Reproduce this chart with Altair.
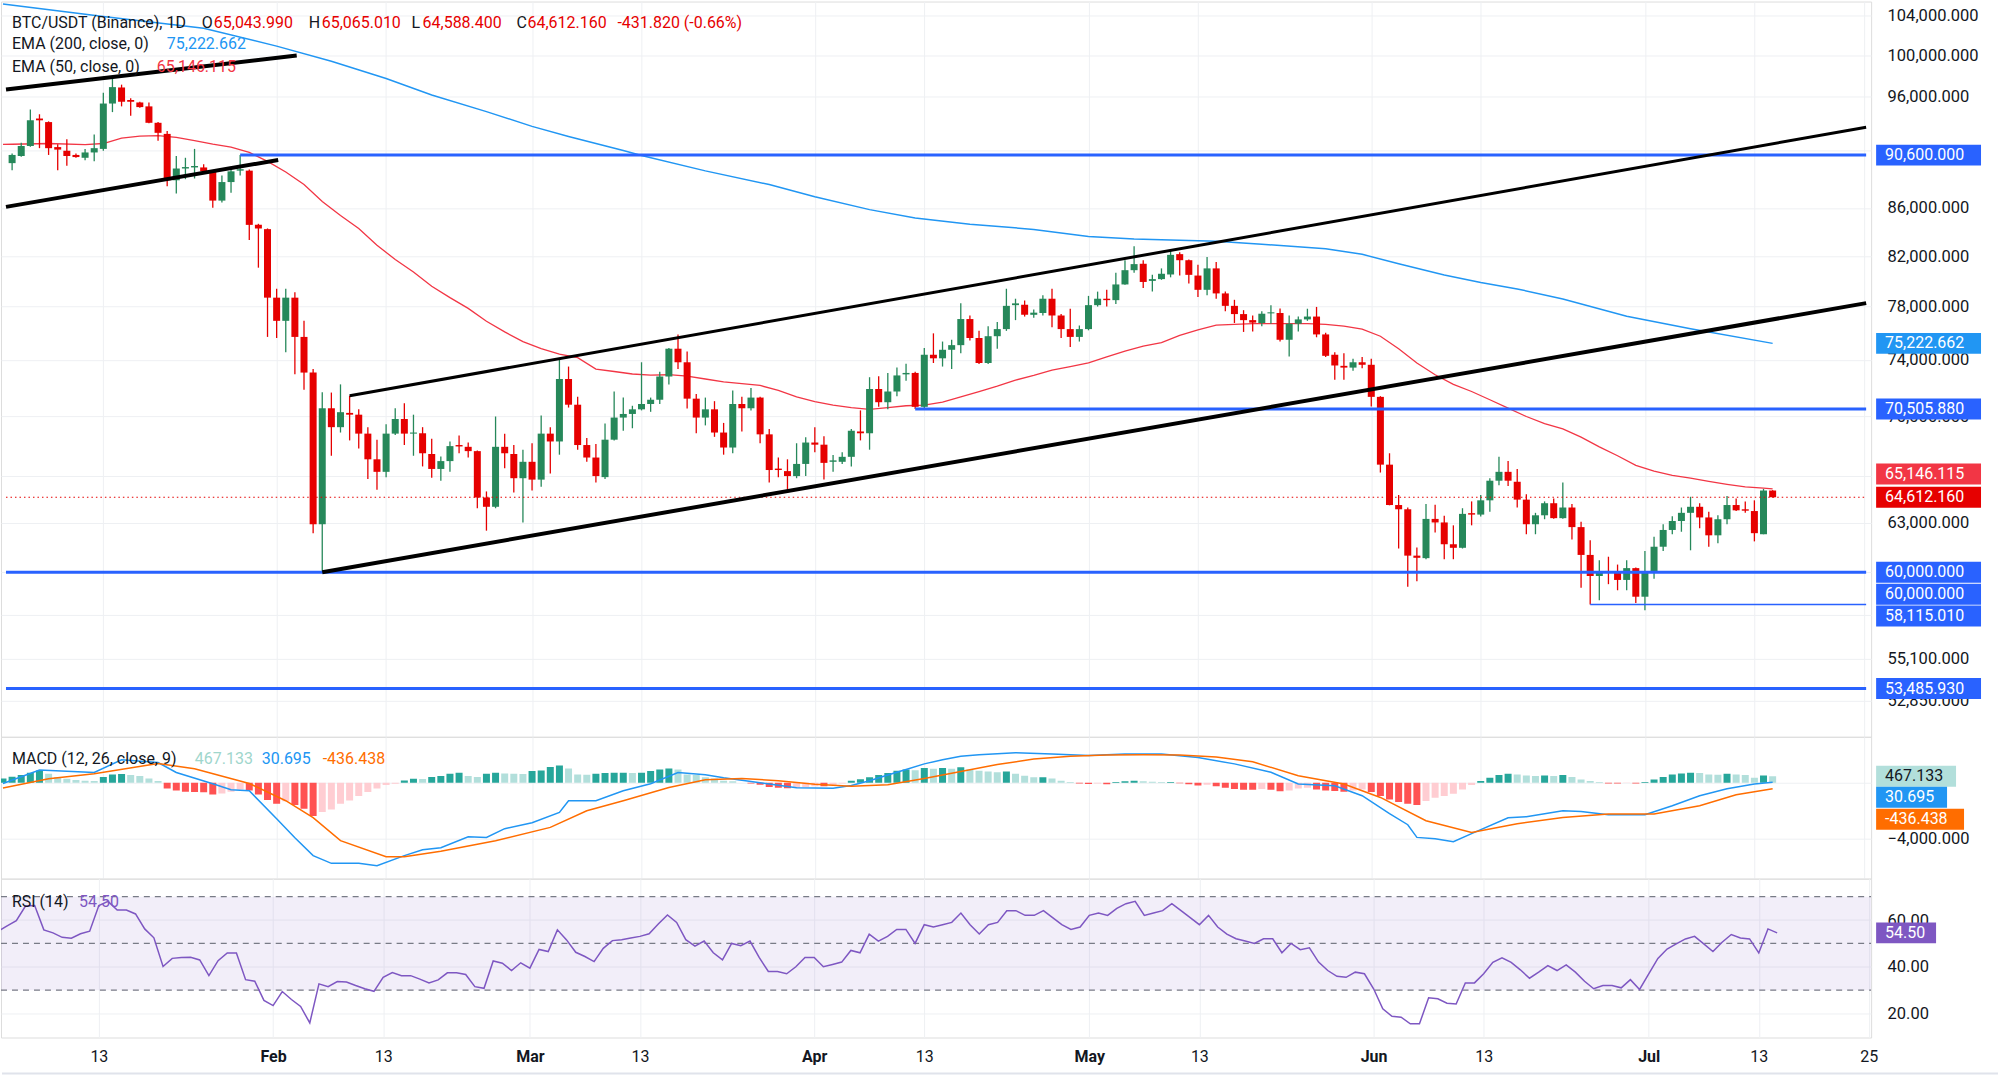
import json
import altair as alt
import pandas as pd

# ---------------- data ----------------
START = "2026-01-03"   # first daily candle

opens = [89885, 90521, 91418, 93935, 93606, 91321, 90998, 90616, 90362, 90839,
         91159, 95337, 96862, 95672, 95438, 95069, 93540, 92520, 88376, 89409,
         89504, 89504, 89159, 86618, 88220, 89221, 89221, 84566, 84211, 78698,
         76916, 78698, 75704, 73083, 62913, 70551, 69245, 70229, 70105, 68805,
         67081, 66256, 68805, 69806, 68805, 68830, 67435, 66445, 66963, 68034,
         67914, 67626, 64597, 64007, 67914, 67435, 65840, 66916, 65748, 68805,
         68274, 72620, 70799, 68034, 67199, 65910, 68394, 69905, 70155, 70477,
         70849, 71148, 72799, 74827, 73831, 71224, 69905, 70477, 68879, 67866,
         70849, 70551, 71299, 68756, 66468, 66303, 65979, 66775, 68202, 68058,
         66916, 66916, 67246, 68952, 68830, 71906, 70973, 71729, 72954, 73057,
         70650, 74382, 74120, 74748, 75091, 77052, 75624, 73779, 75757, 76291,
         78118, 78146, 77377, 77513, 78615, 77323, 76291, 75704, 76291, 78118,
         78615, 78505, 79732, 80864, 81378, 80013, 80154, 80521, 82156, 81665,
         80435, 79310, 81007, 79029, 78063, 77431, 76970, 76753, 77486, 77513,
         75491, 76698, 77025, 77242, 75891, 74382, 73571, 73443, 73831, 73648,
         71350, 66728, 64118, 63850, 60991, 60840, 63245, 63024, 61681, 61465,
         63604, 63515, 64417, 65678, 66256, 65609, 64461, 62913, 63471, 64233,
         63292, 63961, 62734, 61034, 59776, 60074, 59989, 59544, 60243, 58565,
         59989, 61530, 62558, 63113, 63626, 64007, 63337, 62228, 63225, 64118,
         63850, 63738, 62294, 65043.99]
highs = [90744, 91710, 94767, 94332, 93672, 91580, 92034, 90744, 91159, 92455,
         96350, 97821, 97134, 95840, 95505, 95438, 93606, 92782, 90521, 90362,
         91159, 89790, 89253, 88783, 89472, 90600, 89315, 84655, 84270, 79394,
         79394, 79113, 76916, 73340, 71679, 71654, 72236, 71426, 70477, 69245,
         68394, 69440, 70551, 70899, 70105, 69245, 68466, 67270, 68274, 68683,
         68202, 67674, 64985, 69979, 68805, 68034, 67722, 68154, 70054, 69245,
         74041, 73519, 71350, 68514, 68106, 69489, 71729, 71299, 70725, 73831,
         71299, 73134, 74878, 75891, 74617, 71552, 71299, 71048, 69538, 71805,
         71350, 71982, 71350, 69123, 67199, 67081, 68154, 68562, 69245, 68634,
         67364, 67555, 69123, 70403, 72748, 72825, 73057, 73443, 73727, 73134,
         74878, 75971, 75358, 75491, 78256, 77323, 76158, 76508, 76835, 79394,
         78615, 78477, 77786, 78891, 79394, 77431, 77841, 76562, 78836, 79169,
         79310, 80664, 81665, 82797, 81665, 80492, 81007, 82447, 82301, 81722,
         81293, 81923, 81521, 79169, 78532, 77731, 77323, 77648, 78118, 77869,
         77323, 77242, 77841, 77980, 76024, 74565, 74486, 74094, 74224, 74094,
         71401, 67483, 64757, 63961, 61487, 64187, 64141, 63448, 62844, 63916,
         64349, 64757, 65840, 67246, 66963, 66445, 64803, 63626, 64349, 64529,
         65562, 64187, 63068, 61922, 60710, 60926, 60455, 60710, 60285, 61271,
         62140, 62913, 63404, 63961, 64643, 64233, 63693, 63471, 64689, 64529,
         64349, 64417, 65145, 65065.01]
lows = [89253, 90450, 91350, 91224, 90616, 89253, 89662, 90362, 90140, 90045,
        90998, 94533, 95069, 94198, 94935, 93500, 91904, 87846, 87232, 88470,
        88533, 89096, 86009, 86465, 87293, 88783, 83321, 81064, 75704, 75624,
        74565, 72954, 71856, 62360, 60000, 67317, 68879, 68346, 67795, 65794,
        65099, 65910, 68707, 68034, 67317, 66610, 65863, 65678, 66256, 67483,
        67199, 63916, 62514, 63916, 66492, 64917, 63024, 65053, 65284, 66140,
        67388, 70601, 67722, 66916, 65562, 65794, 68346, 69001, 69172, 70403,
        70304, 70849, 72236, 73340, 70526, 68830, 69367, 68586, 67388, 67483,
        68952, 70403, 68154, 65562, 65910, 64985, 65840, 65979, 67555, 65748,
        66256, 66775, 66610, 68346, 67722, 70650, 70477, 71401, 72491, 70506,
        70551, 73779, 73519, 73340, 74486, 75438, 73700, 73700, 74827, 76158,
        76970, 77242, 77160, 77323, 76426, 75624, 74958, 75358, 76200, 78008,
        78008, 78201, 79700, 80664, 79451, 79169, 80098, 80295, 80435, 79816,
        78753, 78891, 78615, 77648, 76753, 76078, 76105, 76508, 76698, 75358,
        74251, 76105, 76916, 75677, 74224, 72568, 72568, 73211, 73391, 70675,
        66210, 64100, 61422, 59141, 59461, 60775, 62404, 60775, 60775, 61422,
        62844, 63403, 63693, 65377, 65330, 63961, 62294, 62294, 63225, 63250,
        63250, 61966, 59079, 58115, 58360, 59295, 58940, 58940, 58196, 57788,
        59607, 61271, 62294, 62448, 61314, 62668, 61530, 61746, 62913, 63738,
        63626, 61856, 62294, 64588.40]
closes = [90616, 91418, 93770, 93770, 91224, 91094, 90521, 90426, 90839, 91224,
          95337, 96896, 95505, 95505, 95002, 93540, 92617, 88376, 89409, 89536,
          89631, 89159, 86618, 88220, 89159, 89346, 84566, 84270, 78698, 76916,
          78698, 75704, 73083, 62913, 70551, 69245, 70279, 70105, 68805, 67081,
          66256, 68805, 69806, 68805, 68879, 67483, 66445, 66963, 67962, 67938,
          67626, 64597, 64007, 67914, 67483, 65840, 66916, 65748, 68805, 68274,
          72620, 70799, 68034, 67199, 65979, 68394, 69905, 70155, 70477, 70849,
          71148, 72799, 74827, 73831, 71224, 69905, 70477, 68879, 67866, 70849,
          70551, 71299, 68756, 66374, 66374, 65979, 66775, 68202, 68058, 66845,
          67010, 67246, 69001, 68830, 71906, 70973, 71729, 72877, 73057, 70650,
          74382, 74120, 74748, 75091, 77052, 75624, 73779, 75757, 76291, 78063,
          78256, 77377, 77540, 78615, 77323, 76291, 75704, 76291, 78118, 78615,
          78505, 79732, 80864, 81350, 79929, 80154, 80578, 82098, 81665, 80492,
          79310, 81007, 79029, 78063, 77431, 76970, 76780, 77459, 77567, 75491,
          76698, 77025, 77242, 75891, 74303, 73597, 73443, 73831, 73648, 71350,
          66728, 64118, 63850, 60991, 60861, 63245, 63024, 61681, 61465, 63560,
          63515, 64417, 65678, 66256, 65678, 64461, 62913, 63471, 64233, 63292,
          63961, 62734, 61034, 59776, 60031, 59989, 59544, 60243, 58565, 59989,
          61530, 62558, 63113, 63626, 64007, 63337, 62228, 63225, 64118, 63783,
          63760, 62360, 65043.98, 64612.16]

# moving averages, sampled (day of year, value)
ema200_day = [1, 12, 23, 31, 37, 43, 48, 54, 59, 63, 69, 71, 78, 85, 90, 96, 101, 107,
              114, 120, 125, 134, 139, 146, 150, 154, 159, 163, 167, 172, 179, 186, 195]
ema200_val = [105200, 103900, 102700, 100900, 99400, 97730, 96150, 94580, 93210, 92290,
              91010, 90560, 89200, 88000, 86950, 85850, 85150, 84620, 84190, 83610,
              83390, 83200, 82960, 82600, 82140, 81380, 80480, 79880, 79380, 78600,
              77270, 76310, 75222.662]
ema50_day = [1, 2, 6, 10, 12, 14, 16, 18, 20, 22, 24, 26, 28, 30, 32, 34, 36, 38, 40, 42,
             44, 46, 48, 50, 52, 54, 56, 58, 60, 62, 64, 66, 68, 70, 72, 74, 76, 78,
             80, 82, 84, 86, 88, 90, 92, 94, 96, 98, 100, 102, 104, 106, 108, 110,
             112, 114, 116, 118, 120, 122, 124, 126, 128, 130, 132, 134, 136, 138,
             140, 142, 144, 146, 148, 150, 152, 154, 156, 158, 160, 162, 164, 166,
             168, 170, 172, 174, 176, 178, 180, 182, 184, 186, 188, 190, 192, 194, 195]
ema50_val = [91560, 91580, 91645, 91548, 91645, 92131, 92325, 92358, 92196, 91904, 91580,
             91321, 90839, 90045, 89096, 88001, 86540, 85352, 84270, 82884, 81722,
             80721, 79591, 78698, 77869, 76889, 76078, 75358, 74827, 74434, 74172,
             73340, 73160, 72980, 72902, 72928, 72825, 72620, 72414, 72286, 72160,
             71805, 71350, 71023, 70775, 70601, 70477, 70601, 70725, 70775, 70973,
             71350, 71729, 72109, 72542, 72877, 73263, 73519, 73779, 74224, 74643,
             75011, 75278, 75811, 76238, 76590, 76644, 76698, 76698, 76698, 76698,
             76644, 76508, 76291, 75757, 74827, 73779, 72928, 72236, 71729, 71148,
             70560, 69979, 69489, 69123, 68562, 67914, 67317, 66681, 66303, 66025,
             65840, 65631, 65446, 65284, 65192, 65146.115]

# drawn levels and trend lines
level_start = [27, 101, 1.33, 1.33]
level_price = [90600, 70505.88, 60000, 53485.93]
support_start, support_price = 175, 58115.01
trend_day = [(1.33, 33.2), (1.33, 31.17), (39, 205.25), (36, 205.25)]
trend_price = [(96673, 99973), (86086, 90165), (71426, 93133), (60000, 78273)]
trend_width = [4, 4, 3, 4]

# MACD (12, 26, 9), histogram from 2 Jan
hist = [300, 428, 547, 714, 880, 643, 405, 286, 190, 143, 119,
        405, 595, 620, 547, 476, 309, 119, -405, -547, -643,
        -666, -680, -833, -762, -643, -476, -547, -833, -1238, -1500,
        -1330, -1595, -1857, -2380, -2094, -1904, -1500, -1261, -952, -666,
        -405, -167, -70, 167, 286, 260, 405, 476, 643, 714,
        476, 405, 643, 714, 660, 643, 620, 833, 880, 1119,
        1238, 1023, 595, 570, 643, 690, 714, 714, 700, 714,
        833, 952, 1023, 952, 595, 547,
        400, 300, 150, 100, 0, -50, -150, -300, -350, -400,
        -350, -300, -250, -250, -150, -50, 150, 250, 400, 550,
        700, 850, 950, 900, 1050, 1000, 1050, 1000, 1100, 950,
        850, 800, 750, 800, 650, 500, 400, 400, 300, 150,
        50, -50, -80, -50, -100, 50, 100, 150, 100, 80,
        50, 60, -30, -100, -200, -150, -250, -350, -450, -500,
        -500, -450, -500, -600, -550,
        -405, -357, -476, -547, -595, -643, -547, -476, -666, -952,
        -1190, -1380, -1500, -1595, -1309, -1071, -952, -785, -476, -167,
        119, 357, 547, 643, 595, 524, 476, 524, 476, 547,
        405, 238, 119, 48, -48, -60, -24, -48, 48, 238,
        405, 595, 666, 714, 700, 595, 580, 643, 595, 547,
        357, 524, 467.133]
macd_day = [1, 5, 11, 14, 18, 20, 24, 26, 28, 31, 33, 35, 37, 40, 42, 45, 47, 49, 52,
            54, 56, 59, 62, 63, 66, 69, 72, 75, 78, 80, 84, 88, 92, 94, 96, 98, 100, 102,
            104, 106, 108, 112, 116, 120, 124, 128, 132, 136, 140, 143, 147, 150, 153, 155,
            156, 158, 160, 162, 166, 168, 172, 174, 177, 181, 184, 187, 190, 193, 195]
macd_val = [-50, 907, 735, 1642, 1449, 735, -71, -500, -571, -2570, -3927, -5212, -5762,
            -5762, -5926, -5212, -4784, -4641, -3856, -3906, -3284, -2856, -2121, -1285,
            -1285, -571, -71, 735, 571, 350, 0, -350, -400, -200, 150, 550, 950, 1350,
            1650, 1900, 2000, 2150, 2050, 1950, 2050, 2050, 1800, 1350, 750, -93, -214,
            -928, -2213, -2999, -3906, -3998, -4213, -3641, -2499, -2428, -1999, -2049,
            -2285, -2285, -1642, -928, -428, -93, 30.695]
signal_day = [1, 6, 11, 18, 22, 28, 32, 35, 38, 43, 45, 49, 55, 61, 65, 69, 74, 78, 82,
              86, 90, 94, 98, 102, 106, 110, 114, 118, 122, 126, 130, 134, 138, 143, 148,
              152, 157, 162, 167, 172, 177, 182, 187, 191, 195]
signal_val = [-371, 286, 643, 1378, 1000, -50, -1285, -2499, -4141, -5284, -5284, -4905,
              -4141, -3192, -1999, -1285, -336, 214, 300, 150, -100, -250, -150, 300, 800,
              1300, 1700, 1900, 1980, 2000, 1980, 1850, 1500, 500, -93, -1050, -2713,
              -3549, -2927, -2478, -2235, -2235, -1642, -857, -436.438]

# RSI (14), from 2 Jan
rsi = [55.1,
       57.5, 59.7, 66.0, 66.2, 55.8, 54.5, 52.6, 52.2, 54.1, 55.2,
       66.2, 68.0, 64.3, 64.3, 62.6, 56.2, 52.4, 40.1, 43.6, 44.0,
       44.1, 42.9, 36.2, 42.6, 45.9, 45.9, 34.5, 33.8, 25.6, 23.4,
       29.4, 26.0, 23.0, 16.0, 32.7, 31.5, 33.7, 33.5, 32.0, 30.6,
       29.5, 35.5, 37.5, 36.2, 36.2, 34.7, 33.1, 34.4, 37.4, 37.4,
       36.7, 31.5, 30.8, 42.5, 41.5, 38.4, 41.7, 39.4, 47.4, 46.5,
       55.8, 51.5, 46.2, 44.4, 42.2, 47.9, 51.2, 51.6, 52.3, 53.0,
       54.1, 58.3, 62.2, 59.0, 51.6, 48.8,
       51, 46, 43, 50, 49, 51, 44, 38, 38, 37,
       40, 44, 44, 40, 41, 42, 47, 46, 54, 51,
       53, 56, 56, 50, 58, 57, 58, 59, 63, 58,
       54, 58, 59, 64, 64, 62, 62, 64, 61, 58,
       56, 57, 62, 63, 62, 65, 67, 68, 62, 63,
       64, 67, 64, 61, 58, 62, 57, 54, 52, 51,
       50, 52, 52, 46, 50,
       47.3, 48.1, 42.0, 38.4, 35.9, 35.5, 37.7, 37.0, 30.6, 22.0,
       18.8, 18.4, 15.6, 15.6, 26.7, 26.3, 24.4, 24.1, 33.1, 33.1,
       37.0, 41.9, 43.8, 41.9, 38.7, 35.1, 37.7, 40.5, 38.4, 40.8,
       37.7, 33.8, 30.6, 32.0, 32.0, 31.0, 34.5, 30.3, 37.0, 43.6,
       47.6, 49.8, 51.9, 53.0, 49.8, 46.5, 50.5, 53.8, 52.3, 51.9,
       45.9, 56.2, 54.5]

# axis ticks
tick_days = [12, 31, 43, 59, 71, 90, 102, 120, 132, 151, 163, 181, 193, 205]
tick_text = ["13", "Feb", "13", "Mar", "13", "Apr", "13", "May", "13", "Jun", "13", "Jul", "13", "25"]
month_days = [31, 59, 90, 120, 151, 181]
price_ticks = [104000, 100000, 96000, 91000, 86000, 82000, 78000, 74000, 70000,
               66000, 63000, 60000, 57500, 55100, 52850]
price_hidden = [91000, 66000, 60000, 57500]

# ---------------- styling ----------------
FONT = "Roboto"
INK = "#131722"
GRID = "#eef0f3"
UP, DOWN = "#26885a", "#e60000"
BLUE_LVL = "#2962ff"
EMA_LONG, EMA_SHORT = "#2196f3", "#f23645"
MACD_C, SIG_C = "#2196f3", "#ff6d00"
RSI_C = "#7e57c2"
W = 1872
H_MAIN, H_MACD, H_RSI = 736, 142, 159
X0, X1 = 1.33, 205.25

# ---------------- frames ----------------
dates = pd.date_range(START, periods=len(opens), freq="D")
days = [int(d.dayofyear) - 1 for d in dates]
ind_days = [days[0] - 1] + days          # indicator series start one day earlier
candles = pd.DataFrame({"t": days, "open": opens, "high": highs, "low": lows, "close": closes})
candles["col"] = [UP if c >= o else DOWN for o, c in zip(opens, closes)]

def hist_color(cur, prev):
    if cur >= 0:
        return "#26a69a" if cur >= prev else "#b2dfdb"
    return "#ffcdd2" if cur > prev else "#ff5252"

hist_df = pd.DataFrame({"t": ind_days, "h": hist})
hist_df["col"] = [hist_color(h, hist[i - 1] if i else h) for i, h in enumerate(hist)]
rsi_df = pd.DataFrame({"t": ind_days, "r": rsi})

xs = alt.Scale(domain=[X0, X1], nice=False, zero=False)
ax_top = alt.Axis(values=tick_days, labels=False, ticks=False, domain=False, grid=True,
                  gridColor=GRID, title=None)
label_expr = f"{json.dumps(tick_text)}[indexof({json.dumps(tick_days)}, datum.value)]"
ax_bottom = alt.Axis(values=tick_days, labelExpr=label_expr, ticks=False, domain=False,
                     grid=True, gridColor=GRID, title=None, labelFontSize=16, labelColor=INK,
                     labelPadding=11, labelFlush=False, labelOverlap=False, labelFont=FONT,
                     labelFontWeight={"condition": {"test": f"indexof({json.dumps(month_days)}, datum.value) >= 0",
                                                    "value": "bold"}, "value": "normal"})

def XT(f):
    return alt.X(f, type="quantitative", scale=xs, axis=ax_top)

def XB(f):
    return alt.X(f, type="quantitative", scale=xs, axis=ax_bottom)

def right_axis(values, fmt, expr=None):
    kw = dict(orient="right", values=values, format=fmt, grid=True, gridColor=GRID,
              ticks=False, domain=False, labelFontSize=16.5, labelColor=INK, labelFont=FONT,
              labelPadding=16, title=None, labelOverlap=False, labelFlush=False, zindex=0)
    if expr:
        kw["labelExpr"] = expr
    return alt.Axis(**kw)

ys_main = alt.Scale(type="log", domain=[50995, 105446], nice=False, zero=False)
ax_main = right_axis(price_ticks, ",.3f",
                     f"indexof({json.dumps(price_hidden)}, datum.value) >= 0 ? '' : datum.label")
ys_macd = alt.Scale(domain=[-6857, 3286], nice=False, zero=False)
ax_macd = right_axis([-4000, 0], ",.3f", "datum.value == 0 ? '' : datum.label")
ys_rsi = alt.Scale(domain=[9.74, 77.7], nice=False, zero=False)
ax_rsi = right_axis([20, 40, 60], ".2f")

def YM(f):
    return alt.Y(f, type="quantitative", scale=ys_main, axis=ax_main)

def YD(f):
    return alt.Y(f, type="quantitative", scale=ys_macd, axis=ax_macd)

def YR(f):
    return alt.Y(f, type="quantitative", scale=ys_rsi, axis=ax_rsi)

def label(text, color, x, y, size=16, weight="normal"):
    return alt.Chart(pd.DataFrame({"s": [text]})).mark_text(
        align="left", baseline="middle", font=FONT, fontSize=size, color=color, fontWeight=weight
    ).encode(x=alt.value(x), y=alt.value(y), text="s:N")

def tag(value, text, fill, ink, width, yenc, shift=0, height=21):
    k = height / width
    path = f"M-1,{-k:.4f}L1,{-k:.4f}L1,{k:.4f}L-1,{k:.4f}Z"
    src = pd.DataFrame({"v": [value], "s": [text]})
    box = alt.Chart(src).mark_point(shape=path, size=width * width, filled=True, fill=fill,
                                    opacity=1, strokeWidth=0, yOffset=shift).encode(
        x=alt.value(1877 + width / 2), y=yenc("v"))
    txt = alt.Chart(src).mark_text(align="left", baseline="middle", font=FONT, fontSize=16,
                                   color=ink, yOffset=shift).encode(
        x=alt.value(1886), y=yenc("v"), text="s:N")
    return box + txt

# ---------------- price pane ----------------
ema200 = alt.Chart(pd.DataFrame({"t": ema200_day, "v": ema200_val})).mark_line(
    color=EMA_LONG, strokeWidth=1.5, clip=True).encode(x=XT("t"), y=YM("v"))
ema50 = alt.Chart(pd.DataFrame({"t": ema50_day, "v": ema50_val})).mark_line(
    color=EMA_SHORT, strokeWidth=1.3, clip=True).encode(x=XT("t"), y=YM("v"))
wicks = alt.Chart(candles).mark_rule(strokeWidth=1.3).encode(
    x=XT("t"), y=YM("low"), y2="high", color=alt.Color("col:N", scale=None))
bodies = alt.Chart(candles).mark_bar(size=7).encode(
    x=XT("t"), y=YM("open"), y2="close", color=alt.Color("col:N", scale=None))
last_line = alt.Chart(pd.DataFrame({"a": [X0], "b": [X1], "v": [closes[-1]]})).mark_rule(
    color=DOWN, strokeDash=[1.5, 3], strokeWidth=1.2, clip=True).encode(
    x=XT("a"), x2="b", y=YM("v"))

lv = pd.DataFrame({"a": level_start, "b": [X1] * len(level_start), "v": level_price})
levels = alt.Chart(lv).mark_rule(color=BLUE_LVL, strokeWidth=3, clip=True).encode(
    x=XT("a"), x2="b", y=YM("v"))
support = alt.Chart(pd.DataFrame({"a": [support_start], "b": [X1], "v": [support_price]})).mark_rule(
    color=BLUE_LVL, strokeWidth=1.5, clip=True).encode(x=XT("a"), x2="b", y=YM("v"))

trend_layers = []
for (d0, d1), (p0, p1), w in zip(trend_day, trend_price, trend_width):
    seg = pd.DataFrame({"t": [d0, d1], "v": [p0, p1]})
    trend_layers.append(alt.Chart(seg).mark_line(color="#000000", strokeWidth=w, clip=True).encode(
        x=XT("t"), y=YM("v")))

o, h, l, c = opens[-1], highs[-1], lows[-1], closes[-1]
chg = c - closes[-2]
legend_main = [
    label("BTC/USDT (Binance), 1D", INK, 11, 21),
    label("O", INK, 201, 21), label(f"{o:,.3f}", DOWN, 213, 21),
    label("H", INK, 308, 21), label(f"{h:,.3f}", DOWN, 321, 21),
    label("L", INK, 411, 21), label(f"{l:,.3f}", DOWN, 422, 21),
    label("C", INK, 516, 21), label(f"{c:,.3f}", DOWN, 527, 21),
    label(f"{chg:,.3f} ({chg / closes[-2] * 100:.2f}%)", DOWN, 617, 21),
    label("EMA (200, close, 0)", INK, 11, 43), label(f"{ema200_val[-1]:,.3f}", EMA_LONG, 166, 43),
    label("EMA (50, close, 0)", INK, 11, 66), label(f"{ema50_val[-1]:,.3f}", EMA_SHORT, 156, 66),
]

tags_main = [
    tag(level_price[0], f"{level_price[0]:,.3f}", BLUE_LVL, "white", 105, YM),
    tag(ema200_val[-1], f"{ema200_val[-1]:,.3f}", EMA_LONG, "white", 105, YM),
    tag(level_price[1], f"{level_price[1]:,.3f}", BLUE_LVL, "white", 105, YM),
    tag(ema50_val[-1], f"{ema50_val[-1]:,.3f}", EMA_SHORT, "white", 105, YM, shift=-15),
    tag(closes[-1], f"{closes[-1]:,.3f}", DOWN, "white", 105, YM),
    tag(level_price[2], f"{level_price[2]:,.3f}", BLUE_LVL, "white", 105, YM),
    tag(level_price[2], f"{level_price[2]:,.3f}", BLUE_LVL, "white", 105, YM, shift=22),
    tag(support_price, f"{support_price:,.3f}", BLUE_LVL, "white", 105, YM, shift=11.5),
    tag(level_price[3], f"{level_price[3]:,.3f}", BLUE_LVL, "white", 105, YM),
]

price_pane = alt.layer(
    ema200, ema50, wicks, bodies, last_line, levels, support, *trend_layers,
    *legend_main, *tags_main
).properties(width=W, height=H_MAIN)

# ---------------- MACD pane ----------------
bars = alt.Chart(hist_df).mark_bar(size=7, clip=True).encode(
    x=XT("t"), y=YD("h"), y2=alt.datum(0), color=alt.Color("col:N", scale=None))
macd_line = alt.Chart(pd.DataFrame({"t": macd_day, "v": macd_val})).mark_line(
    color=MACD_C, strokeWidth=1.5, clip=True).encode(x=XT("t"), y=YD("v"))
sig_line = alt.Chart(pd.DataFrame({"t": signal_day, "v": signal_val})).mark_line(
    color=SIG_C, strokeWidth=1.5, clip=True).encode(x=XT("t"), y=YD("v"))
legend_macd = [
    label("MACD (12, 26, close, 9)", INK, 11, 22),
    label(f"{hist[-1]:,.3f}", "#9fd6cc", 194, 22),
    label(f"{macd_val[-1]:,.3f}", MACD_C, 261, 22),
    label(f"{signal_val[-1]:,.3f}", SIG_C, 322, 22),
]
tags_macd = [
    tag(hist[-1], f"{hist[-1]:,.3f}", "#b2dfdb", INK, 80, YD),
    tag(macd_val[-1], f"{macd_val[-1]:,.3f}", MACD_C, "white", 71, YD, shift=15),
    tag(signal_val[-1], f"{signal_val[-1]:,.3f}", SIG_C, "white", 88, YD, shift=30.5),
]
macd_pane = alt.layer(bars, macd_line, sig_line, *legend_macd, *tags_macd).properties(
    width=W, height=H_MACD)

# ---------------- RSI pane ----------------
band = alt.Chart(pd.DataFrame({"lo": [30], "hi": [70]})).mark_rect(
    color=RSI_C, opacity=0.1).encode(x=alt.value(0), x2=alt.value(W), y=YR("lo"), y2="hi")
guides = alt.Chart(pd.DataFrame({"v": [30, 50, 70]})).mark_rule(
    color="#787b86", strokeDash=[6, 5], strokeWidth=1.2, clip=True).encode(
    x=alt.value(0), x2=alt.value(W), y=YR("v"))
rsi_line = alt.Chart(rsi_df).mark_line(color=RSI_C, strokeWidth=1.5, clip=True).encode(
    x=XB("t"), y=YR("r"))
legend_rsi = [label("RSI (14)", INK, 11, 23), label(f"{rsi[-1]:.2f}", RSI_C, 78, 23)]
tags_rsi = [tag(rsi[-1], f"{rsi[-1]:.2f}", RSI_C, "white", 60, YR)]
floor = alt.Chart(pd.DataFrame({"a": [0]})).mark_rule(color="#e0e3eb", strokeWidth=2).encode(
    x=alt.value(1), x2=alt.value(1999), y=alt.value(H_RSI + 36))
rsi_pane = alt.layer(band, guides, rsi_line, *legend_rsi, *tags_rsi, floor).properties(
    width=W, height=H_RSI)

chart = alt.vconcat(price_pane, macd_pane, rsi_pane, spacing=0, bounds="flush").properties(
    padding=0, background="white"
).configure_view(stroke="#e0e3eb", strokeWidth=1).configure(font=FONT)

chart.save("out.html", embed_options={"renderer": "svg", "actions": False})
